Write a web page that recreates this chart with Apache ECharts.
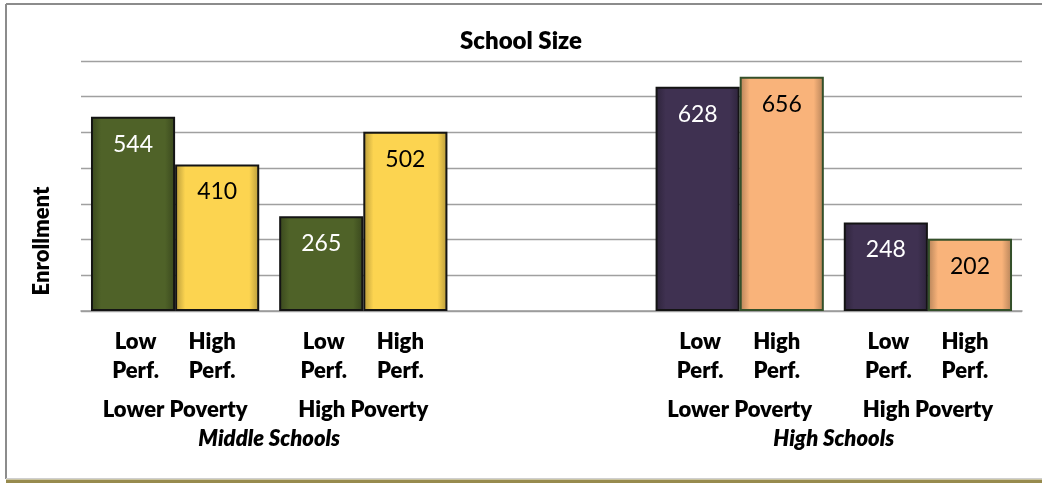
<!DOCTYPE html>
<html>
<head>
<meta charset="utf-8">
<script src="https://cdn.jsdelivr.net/npm/echarts@6/dist/echarts.min.js"></script>
<style>
  html, body { margin: 0; padding: 0; background: #fff; }
  #main { width: 1042px; height: 483px; }
</style>
</head>
<body>
<div id="main"></div>
<script>
// groups on the main axis (middle gap is an empty slot)
const groups = ['Lower Poverty', 'High Poverty', '', 'Lower Poverty', 'High Poverty'];
const perfLabels = ['Low\nPerf.', 'High\nPerf.', 'Low\nPerf.', 'High\nPerf.', '', '', 'Low\nPerf.', 'High\nPerf.', 'Low\nPerf.', 'High\nPerf.'];
const levels = ['', 'Middle Schools', '', '', 'High Schools', ''];

const lowPerf = [544, 265, null, 628, 248];
const highPerf = [410, 502, null, 656, 202];

const lowColors = ['#4F6228', '#4F6228', null, '#3F3151', '#3F3151'];
const highColors = ['#FCD450', '#FCD450', null, '#F9B37A', '#F9B37A'];
const highBorders = ['#141414', '#141414', null, '#34502A', '#34502A'];

const font = 'Lato, "Open Sans", sans-serif';
const heavy = 800;

function darken(hex, f) {
  const n = parseInt(hex.slice(1), 16);
  const r = Math.round(((n >> 16) & 255) * f);
  const g = Math.round(((n >> 8) & 255) * f);
  const b = Math.round((n & 255) * f);
  return 'rgb(' + r + ',' + g + ',' + b + ')';
}

function shaded(c) {
  const d = darken(c, 0.72);
  return {
    type: 'linear', x: 0, y: 0, x2: 1, y2: 0,
    colorStops: [
      { offset: 0, color: d },
      { offset: 0.12, color: c },
      { offset: 0.88, color: c },
      { offset: 1, color: d }
    ]
  };
}

function items(values, colors, borders) {
  return values.map(function (v, i) {
    if (v == null) return '-';
    return {
      value: v,
      itemStyle: {
        color: shaded(colors[i]),
        borderColor: borders ? borders[i] : '#141414',
        borderWidth: 2
      }
    };
  });
}

const chart = echarts.init(document.getElementById('main'));
chart.setOption({
  backgroundColor: '#fff',
  animation: false,
  textStyle: { fontFamily: font },
  title: {
    text: 'School Size',
    left: 'center',
    top: 24,
    textStyle: { fontFamily: font, fontSize: 24, fontWeight: heavy, color: '#000' }
  },
  grid: { left: 81, right: 20, top: 61, bottom: 172, containLabel: false },
  xAxis: [
    {
      type: 'category',
      data: groups,
      position: 'bottom',
      axisLine: { lineStyle: { color: '#9a9a9a', width: 1.5 } },
      axisTick: { length: 6, lineStyle: { color: '#9a9a9a', width: 1.5 } },
      axisLabel: { interval: 0, margin: 88, fontSize: 22, fontWeight: heavy, color: '#000', fontFamily: font }
    },
    {
      type: 'category',
      data: perfLabels,
      position: 'bottom',
      axisLine: { show: false },
      axisTick: { show: false },
      axisLabel: {
        interval: 0,
        margin: 16,
        formatter: function (v) {
          if (!v) return '';
          return v.indexOf('Low') === 0 ? '{lo|' + v + '}' : '{hi|' + v + '}';
        },
        rich: {
          lo: { fontSize: 22, fontWeight: heavy, color: '#000', lineHeight: 29, padding: [0, 0, 0, 15], fontFamily: font },
          hi: { fontSize: 22, fontWeight: heavy, color: '#000', lineHeight: 29, padding: [0, 20, 0, 0], fontFamily: font }
        }
      }
    },
    {
      type: 'category',
      data: levels,
      boundaryGap: false,
      position: 'bottom',
      axisLine: { show: false },
      axisTick: { show: false },
      axisLabel: { interval: 0, margin: 117, fontSize: 22, fontWeight: heavy, fontStyle: 'italic', color: '#000', fontFamily: font }
    }
  ],
  yAxis: {
    type: 'value',
    min: 0,
    max: 700,
    interval: 100,
    name: 'Enrollment',
    nameLocation: 'middle',
    nameRotate: 90,
    nameGap: 28,
    nameTextStyle: { fontSize: 22, fontWeight: heavy, color: '#000', fontFamily: font, padding: [0, 110, 0, 0] },
    axisLine: { show: false },
    axisTick: { show: false },
    axisLabel: { show: false },
    splitLine: { lineStyle: { color: '#a0a0a0', width: 1.3 } }
  },
  series: [
    {
      name: 'Low Perf.',
      type: 'bar',
      xAxisIndex: 0,
      barGap: '0%',
      barCategoryGap: '10.6%',
      data: items(lowPerf, lowColors),
      label: { show: true, position: 'insideTop', distance: 16, color: '#fff', fontSize: 23, fontFamily: font }
    },
    {
      name: 'High Perf.',
      type: 'bar',
      xAxisIndex: 0,
      data: items(highPerf, highColors, highBorders),
      label: { show: true, position: 'insideTop', distance: 16, color: '#000', fontSize: 23, fontFamily: font }
    }
  ],
  graphic: [
    { type: 'line', silent: true, shape: { x1: 6, y1: 4, x2: 1042, y2: 4 }, style: { stroke: '#8c8c8c', lineWidth: 2 } },
    { type: 'line', silent: true, shape: { x1: 6, y1: 4, x2: 6, y2: 479 }, style: { stroke: '#8c8c8c', lineWidth: 2 } },
    { type: 'line', silent: true, shape: { x1: 6, y1: 478.5, x2: 1042, y2: 478.5 }, style: { stroke: '#cfcfcf', lineWidth: 1 } },
    { type: 'rect', silent: true, shape: { x: 6, y: 479.5, width: 1036, height: 4 }, style: { fill: '#978B4E' } }
  ]
});
</script>
</body>
</html>
